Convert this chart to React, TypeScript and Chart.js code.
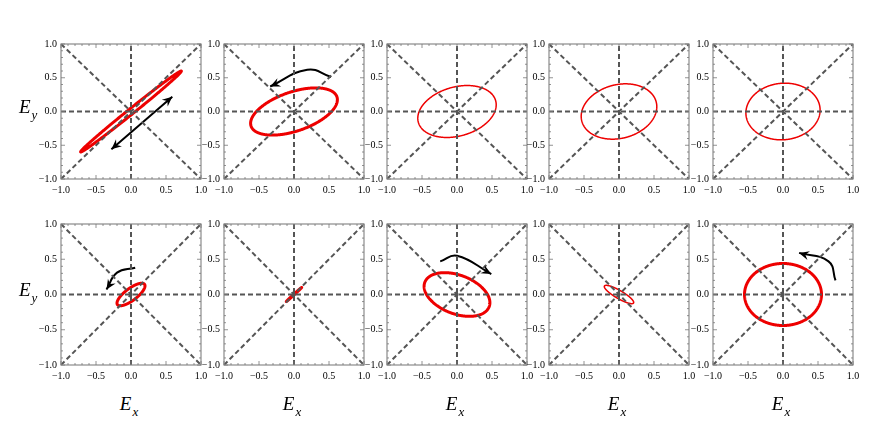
import React, { useEffect, useRef } from "react";
import { Chart, registerables } from "chart.js";

Chart.register(...registerables);

// ---- data ----
const TICK_VALUES = [-1, -0.5, 0, 0.5, 1];
const TICK_LABELS = ["−1.0", "−0.5", "0.0", "0.5", "1.0"];

// dashed guide lines: vertical, horizontal, diagonal, anti-diagonal
const GUIDE_X = [[0, 0], [-1, 1], [-1, 1], [-1, 1]];
const GUIDE_Y = [[-1, 1], [0, 0], [-1, 1], [1, -1]];

// polarisation ellipse per panel (row-major): Ex = a cos t, Ey = b cos(t - phase)
const AMP_X = [0.72, 0.62, 0.56, 0.54, 0.53, 0.2, 0.11, 0.47, 0.21, 0.55];
const AMP_Y = [0.6, 0.35, 0.385, 0.41, 0.42, 0.16, 0.1, 0.31, 0.13, 0.44];
const PHASE_DEG = [5, 60, 75, 80, 87, 40, 4, 112, 150, 90];
const LINE_W = [3, 3, 1.5, 1.5, 1.5, 3, 3, 3, 1.5, 3];

// rotation arrows
const ARROW_PANEL = [0, 1, 5, 7, 9];
const ARROW_X = [
  [-0.28, 0.59],
  [0.53, 0.19, -0.34],
  [0.06, -0.2, -0.35],
  [-0.24, 0.0, 0.49],
  [0.75, 0.65, 0.23],
];
const ARROW_Y = [
  [-0.56, 0.22],
  [0.51, 0.62, 0.37],
  [0.38, 0.31, 0.07],
  [0.47, 0.55, 0.29],
  [0.2, 0.47, 0.59],
];
const ARROW_BOTH = [true, false, false, false, false];

// ---- layout ----
const COL_X = [61, 224, 387, 549, 713];
const FRAME_W = 140;
const ROW_Y = [42, 222];
const ROW_H = [137, 143];
const PAD_L = 30;
const PAD_R = 12;
const PAD_T = 8;
const PAD_B = 18;

const RED = "#ee0000";
const SERIF = '"Liberation Serif", "Times New Roman", serif';

const framePlugin = {
  id: "frame",
  afterDatasetsDraw(chart: any) {
    const { ctx, chartArea } = chart;
    const { left, right, top, bottom } = chartArea;
    const xs = chart.scales.x;
    const ys = chart.scales.y;
    ctx.save();
    ctx.strokeStyle = "#8a8a8a";
    ctx.lineWidth = 1.2;
    ctx.strokeRect(left, top, right - left, bottom - top);
    ctx.strokeStyle = "#777";
    ctx.lineWidth = 0.8;
    ctx.beginPath();
    for (let k = -10; k <= 10; k++) {
      const v = k / 10;
      const len = k % 5 === 0 ? 4 : 2;
      const px = xs.getPixelForValue(v);
      const py = ys.getPixelForValue(v);
      ctx.moveTo(px, bottom);
      ctx.lineTo(px, bottom - len);
      ctx.moveTo(px, top);
      ctx.lineTo(px, top + len);
      ctx.moveTo(left, py);
      ctx.lineTo(left + len, py);
      ctx.moveTo(right, py);
      ctx.lineTo(right - len, py);
    }
    ctx.stroke();
    ctx.restore();
  },
};

function drawHead(ctx: any, tip: any, from: any) {
  const ang = Math.atan2(tip.y - from.y, tip.x - from.x);
  const L = 10;
  const W = 4.5;
  const N = 6.5;
  ctx.save();
  ctx.translate(tip.x, tip.y);
  ctx.rotate(ang);
  ctx.beginPath();
  ctx.moveTo(0, 0);
  ctx.lineTo(-L, -W);
  ctx.lineTo(-N, 0);
  ctx.lineTo(-L, W);
  ctx.closePath();
  ctx.fillStyle = "#000";
  ctx.fill();
  ctx.restore();
}

const arrowPlugin = {
  id: "arrowHeads",
  afterDatasetsDraw(chart: any) {
    const ctx = chart.ctx;
    chart.data.datasets.forEach((ds: any, i: number) => {
      if (!ds.arrow) return;
      const pts = chart.getDatasetMeta(i).data;
      const n = pts.length;
      if (n < 2) return;
      drawHead(ctx, pts[n - 1], pts[n - 2]);
      if (ds.arrow === "both") drawHead(ctx, pts[0], pts[1]);
    });
  },
};

function scaleOpts(isX: boolean) {
  return {
    type: "linear",
    min: -1,
    max: 1,
    afterBuildTicks: (s: any) => {
      s.ticks = TICK_VALUES.map((v) => ({ value: v }));
    },
    afterFit: (s: any) => {
      if (isX) s.height = PAD_B;
      else s.width = PAD_L - 4;
    },
    grid: { display: false, drawTicks: false },
    border: { display: false },
    ticks: {
      autoSkip: false,
      maxRotation: 0,
      padding: isX ? 5 : 4,
      color: "#000",
      font: { family: SERIF, size: 10 },
      callback: (v: number) => TICK_LABELS[TICK_VALUES.indexOf(v)] ?? "",
    },
  };
}

function Panel({ idx }: { idx: number }) {
  const ref = useRef<HTMLCanvasElement>(null);
  const row = Math.floor(idx / 5);
  const col = idx % 5;
  const w = FRAME_W + PAD_L + PAD_R;
  const h = ROW_H[row] + PAD_T + PAD_B;
  useEffect(() => {
    const datasets: any[] = GUIDE_X.map((gx, j) => ({
      data: gx.map((x, m) => ({ x, y: GUIDE_Y[j][m] })),
      borderColor: "#555",
      borderWidth: 2,
      borderDash: [5, 3],
      showLine: true,
      pointRadius: 0,
      tension: 0,
    }));
    const a = AMP_X[idx];
    const b = AMP_Y[idx];
    const d = (PHASE_DEG[idx] * Math.PI) / 180;
    const pts: any[] = [];
    for (let k = 0; k <= 240; k++) {
      const t = (k / 240) * 2 * Math.PI;
      pts.push({ x: a * Math.cos(t), y: b * Math.cos(t - d) });
    }
    datasets.push({
      data: pts,
      borderColor: RED,
      borderWidth: LINE_W[idx],
      borderJoinStyle: "round",
      borderCapStyle: "round",
      showLine: true,
      pointRadius: 0,
      tension: 0.001,
    });
    const ai = ARROW_PANEL.indexOf(idx);
    if (ai >= 0) {
      datasets.push({
        data: ARROW_X[ai].map((x, m) => ({ x, y: ARROW_Y[ai][m] })),
        borderColor: "#000",
        borderWidth: 2,
        showLine: true,
        pointRadius: 0,
        tension: 0.45,
        arrow: ARROW_BOTH[ai] ? "both" : "end",
      });
    }
    const chart = new Chart(ref.current as HTMLCanvasElement, {
      type: "scatter",
      data: { datasets },
      options: {
        animation: false,
        responsive: false,
        devicePixelRatio: 1,
        layout: { padding: { left: 4, right: PAD_R, top: PAD_T, bottom: 0 } },
        plugins: { legend: { display: false }, tooltip: { enabled: false } },
        events: [],
        scales: { x: scaleOpts(true), y: scaleOpts(false) } as any,
      },
      plugins: [framePlugin, arrowPlugin],
    } as any);
    return () => chart.destroy();
  }, [idx]);
  return (
    <canvas
      ref={ref}
      width={w}
      height={h}
      style={{
        position: "absolute",
        left: COL_X[col] - PAD_L,
        top: ROW_Y[row] - PAD_T,
        width: w,
        height: h,
      }}
    />
  );
}

const bigLabel: React.CSSProperties = {
  position: "absolute",
  fontFamily: SERIF,
  fontStyle: "italic",
  fontSize: 19,
  lineHeight: "19px",
  whiteSpace: "nowrap",
  color: "#000",
};
const subStyle: React.CSSProperties = { fontSize: 13, position: "relative", top: 6, marginLeft: 1 };

export default function App() {
  return (
    <div
      style={{
        position: "absolute",
        left: 0,
        top: 0,
        width: 872,
        height: 436,
        background: "#fff",
        overflow: "hidden",
      }}
    >
      {Array.from({ length: 10 }, (_, i) => (
        <Panel key={i} idx={i} />
      ))}
      {ROW_Y.map((ry, r) => (
        <div key={"ey" + r} style={{ ...bigLabel, left: 19, top: ry + ROW_H[r] / 2 - 14 }}>
          E<span style={subStyle}>y</span>
        </div>
      ))}
      {COL_X.map((cx, c) => (
        <div
          key={"ex" + c}
          style={{ ...bigLabel, left: cx + FRAME_W / 2 - 2, top: 394, transform: "translateX(-50%)" }}
        >
          E<span style={subStyle}>x</span>
        </div>
      ))}
    </div>
  );
}
